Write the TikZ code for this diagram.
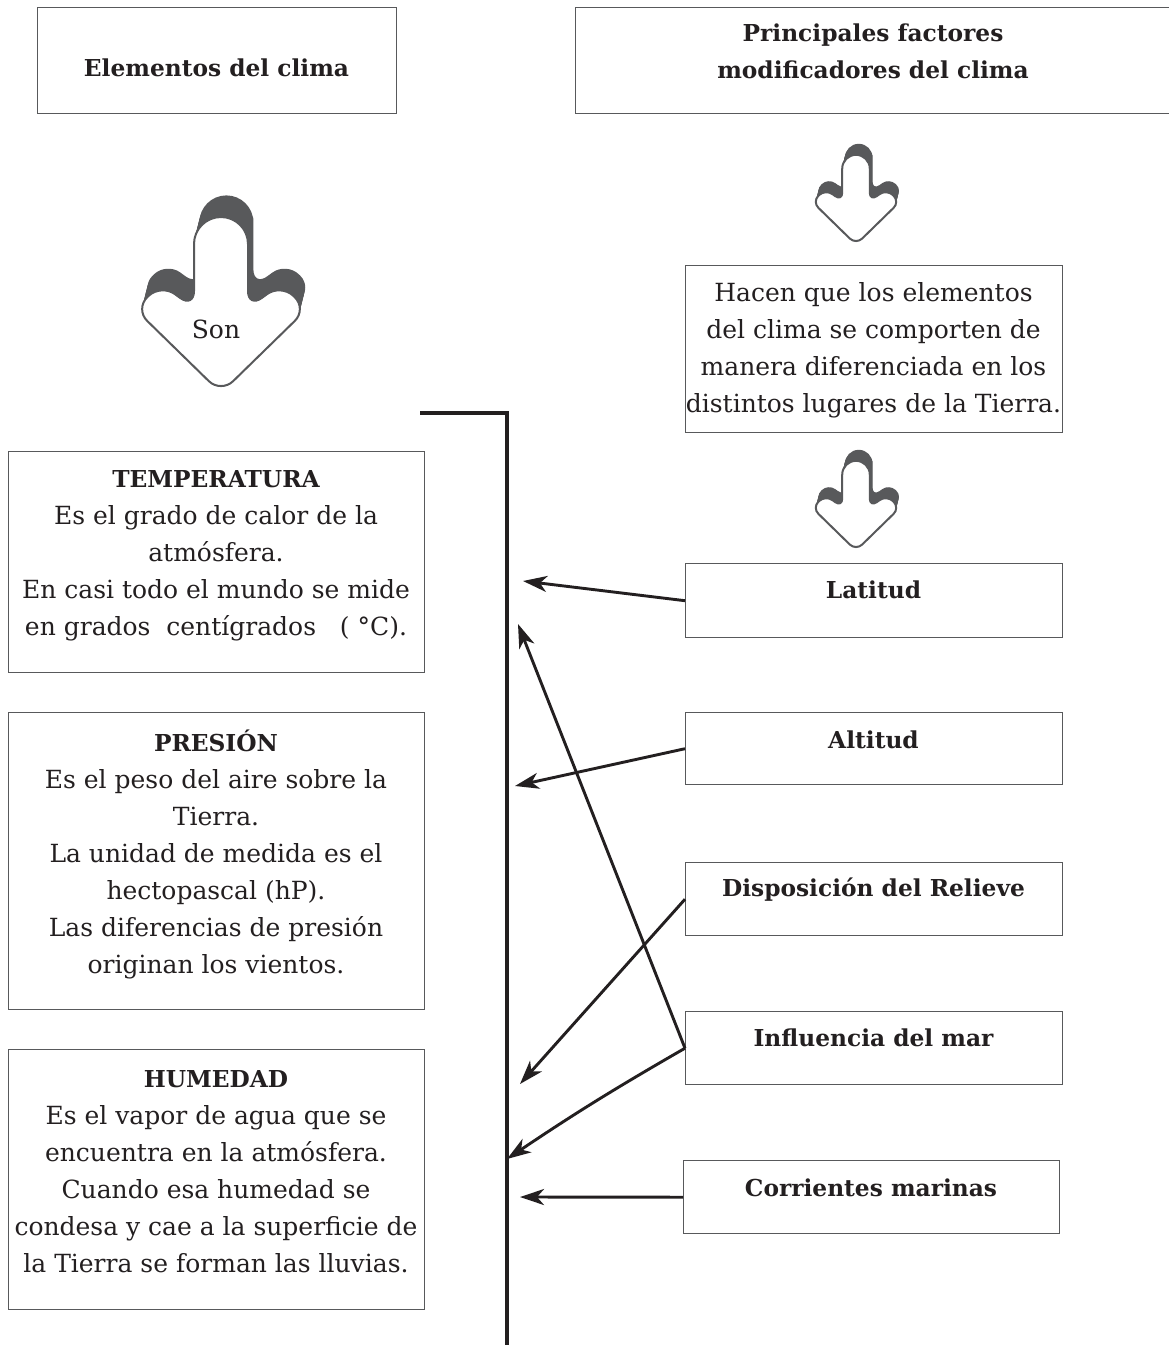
\documentclass[tikz,border=0pt]{standalone}
\usepackage{fontspec}
\setmainfont{DejaVu Serif}
\usetikzlibrary{arrows.meta}
\definecolor{ink}{HTML}{231F20}
\definecolor{boxgray}{HTML}{58595B}
\definecolor{shadowgray}{HTML}{58595B}
\newcommand\hd[1]{{\fontsize{23.3}{37}\selectfont\bfseries #1}}
\newcommand\blockshape[2]{%
  \pgfmathsetmacro\rA{17*#2}\pgfmathsetmacro\rB{27*#2}%
  \path[#1, rounded corners=\rA pt] (0,-7) -- (-86,77) -- (-60,102) -- (-27,78) -- (-27,120)
    [rounded corners=\rB pt] -- (-27,169) -- (27,169) -- (27,120)
    [rounded corners=\rA pt] -- (27,78) -- (60,102) -- (86,77) -- cycle;}
\newcommand\blockarrow[3]{%
  \begin{scope}[shift={(#1,#2)}, yscale=-1, scale=#3]
    \foreach \t in {0,0.1,...,1}{\blockshape{fill=shadowgray, shift={({6*\t},{24*\t})}}{#3}}
    \blockshape{draw=boxgray, line width=2pt, fill=white}{#3}
  \end{scope}}
\begin{document}
\begin{tikzpicture}[x=1pt,y=-1pt,
  box/.style={draw=boxgray, line width=1.4pt, inner sep=0pt, anchor=north west},
  body/.style={text=ink, align=center, font=\fontsize{25}{37}\selectfont, inner sep=0pt},
  head/.style={text=ink, align=center, font=\fontsize{23.3}{37}\selectfont\bfseries, inner sep=0pt},
  conn/.style={draw=ink, line width=2.9pt, -{Stealth[length=24pt,width=16pt,inset=7pt]}}]
\useasboundingbox (0,0) rectangle (1169,1345);
\fill[white] (0,0) rectangle (1169,1345);

% boxes
\node[box, minimum width=359pt, minimum height=106pt] (elem) at (37,7) {};
\node[box, minimum width=610pt, minimum height=106pt] (fact) at (575,7) {};
\node[box, minimum width=377pt, minimum height=167pt] (hacen) at (685,265) {};
\node[box, minimum width=416pt, minimum height=221pt] (temp) at (8,451) {};
\node[box, minimum width=416pt, minimum height=297pt] (pres) at (8,712) {};
\node[box, minimum width=416pt, minimum height=260pt] (hum) at (8,1049) {};
\node[box, minimum width=377pt, minimum height=74pt] (lat) at (685,563) {};
\node[box, minimum width=377pt, minimum height=72pt] (alt) at (685,712) {};
\node[box, minimum width=377pt, minimum height=73pt] (disp) at (685,862) {};
\node[box, minimum width=377pt, minimum height=73pt] (infl) at (685,1011) {};
\node[box, minimum width=376pt, minimum height=73pt] (corr) at (683,1160) {};

% block arrows
\blockarrow{221}{386}{1}
\blockarrow{856}{241}{0.51}
\blockarrow{856}{547}{0.51}

% texts
\node[head] (elemT) at (216.5,68) {Elementos del clima};
\node[head] (factT) at (873,51) {Principales factores\\modificadores del clima};
\node[body] (son) at (216,329) {Son};
\node[body] (hacenT) at (873.5,350) {Hacen que los elementos\\del clima se comporten de\\manera diferenciada en los\\distintos lugares de la Tierra.};
\node[body] (tempT) at (216,556) {\hd{TEMPERATURA}\\Es el grado de calor de la\\atmósfera.\\En casi todo el mundo se mide\\en grados~ centígrados~~ (~°C).};
\node[body] (presT) at (216,854) {\hd{PRESIÓN}\\Es el peso del aire sobre la\\Tierra.\\La unidad de medida es el\\hectopascal (hP).\\Las diferencias de presión\\originan los vientos.};
\node[body] (humT) at (216,1172) {\hd{HUMEDAD}\\Es el vapor de agua que se\\encuentra en la atmósfera.\\Cuando esa humedad se\\condesa y cae a la superficie de\\la Tierra se forman las lluvias.};
\node[head] (latT) at (873.5,590) {Latitud};
\node[head] (altT) at (873.5,740) {Altitud};
\node[head] (dispT) at (873.5,890) {Disposición del Relieve};
\node[head] (inflT) at (873.5,1038) {Influencia del mar};
\node[head] (corrT) at (871,1188) {Corrientes marinas};

% bracket
\coordinate (b1) at (420,413);
\coordinate (b2) at (507,413);
\coordinate (b3) at (507,1350);
\draw[ink, line width=3.5pt] (b1) -- (b2) -- (b3);

% connectors
\coordinate (tLat) at (523,581);
\coordinate (tAlt) at (515,786);
\coordinate (tDisp) at (520,1084);
\coordinate (tInflA) at (518,624);
\coordinate (tInflB) at (507,1159);
\coordinate (tCorr) at (520,1197);
\draw[conn] (lat.west) -- (tLat);
\draw[conn] (alt.west) -- (tAlt);
\draw[conn] (disp.west) -- (tDisp);
\draw[conn] (infl.west) -- (tInflA);
\draw[conn] (infl.west) to[bend right=2] (tInflB);
\draw[conn] (corr.west) -- (tCorr);
\end{tikzpicture}
\end{document}
